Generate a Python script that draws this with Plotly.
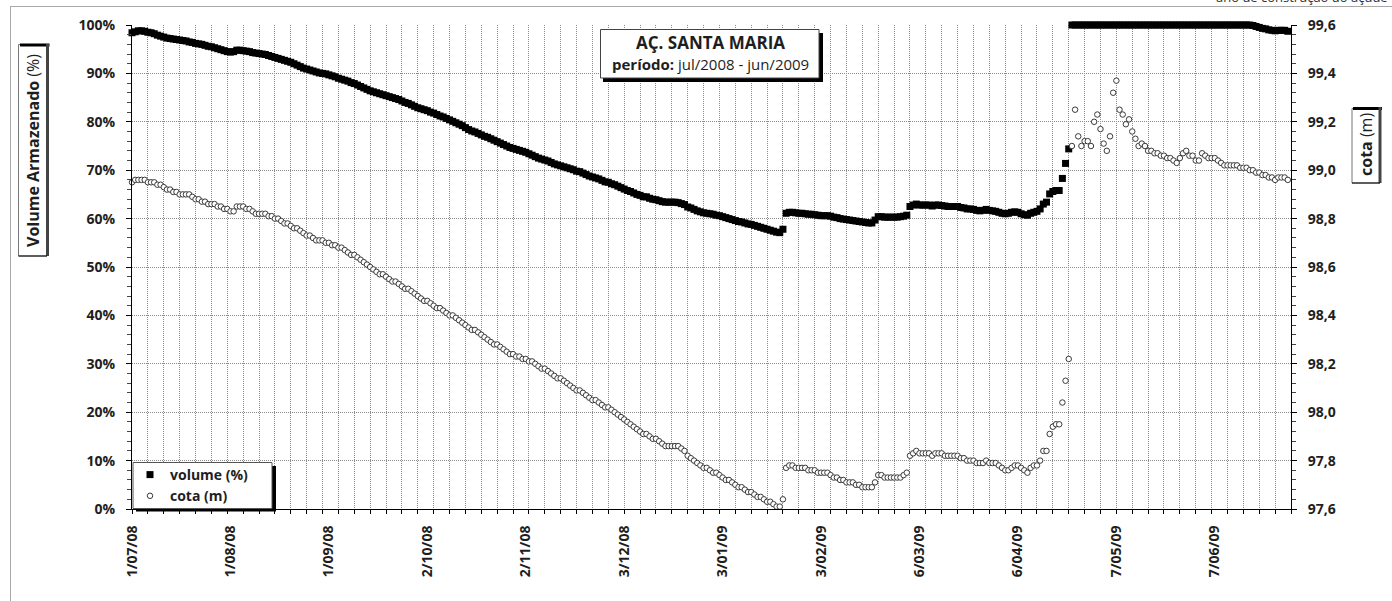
import plotly.graph_objects as go
import pandas as pd

# ---------------- data ----------------
start_date = "2008-07-01"
n_days = 365
dates = pd.date_range(start_date, periods=n_days, freq="D")

volume_pct = [
    98.4, 98.6, 98.8, 98.8, 98.7, 98.5, 98.4, 98.2, 97.9, 97.7,
    97.5, 97.3, 97.2, 97.1, 97.0, 96.9, 96.8, 96.7, 96.5, 96.4,
    96.2, 96.1, 96.0, 95.8, 95.6, 95.5, 95.3, 95.1, 94.9, 94.7,
    94.5, 94.4, 94.5, 94.8, 94.8, 94.7, 94.6, 94.5, 94.3, 94.2,
    94.1, 94.0, 93.9, 93.7, 93.5, 93.3, 93.1, 92.9, 92.7, 92.5,
    92.3, 92.0, 91.7, 91.4, 91.1, 90.9, 90.7, 90.5, 90.3, 90.1,
    90.0, 89.9, 89.7, 89.5, 89.3, 89.0, 88.8, 88.6, 88.4, 88.1,
    87.9, 87.6, 87.3, 87.0, 86.7, 86.4, 86.2, 86.0, 85.8, 85.6,
    85.4, 85.2, 85.0, 84.8, 84.6, 84.3, 84.0, 83.8, 83.5, 83.2,
    82.9, 82.7, 82.5, 82.3, 82.0, 81.8, 81.5, 81.2, 81.0, 80.7,
    80.4, 80.1, 79.8, 79.5, 79.2, 78.8, 78.4, 78.1, 77.9, 77.6,
    77.3, 77.0, 76.8, 76.5, 76.2, 75.9, 75.6, 75.3, 75.0, 74.7,
    74.5, 74.3, 74.1, 73.9, 73.7, 73.4, 73.1, 72.8, 72.5, 72.3,
    72.1, 71.9, 71.6, 71.3, 71.1, 70.9, 70.7, 70.5, 70.3, 70.1,
    69.8, 69.7, 69.4, 69.1, 68.8, 68.6, 68.4, 68.2, 67.9, 67.6,
    67.5, 67.2, 67.0, 66.7, 66.4, 66.1, 65.8, 65.6, 65.3, 65.0,
    64.8, 64.5, 64.5, 64.2, 64.0, 63.9, 63.7, 63.5, 63.4, 63.4,
    63.4, 63.4, 63.3, 63.1, 62.9, 62.4, 62.2, 61.9, 61.6, 61.4,
    61.2, 61.1, 61.0, 60.9, 60.7, 60.6, 60.4, 60.2, 60.0, 59.8,
    59.6, 59.4, 59.3, 59.1, 58.9, 58.8, 58.6, 58.4, 58.2, 58.0,
    57.8, 57.6, 57.4, 57.2, 57.1, 57.8, 61.1, 61.3, 61.3, 61.2,
    61.1, 61.1, 61.0, 60.9, 60.9, 60.8, 60.7, 60.6, 60.6, 60.6,
    60.5, 60.3, 60.2, 60.0, 59.9, 59.8, 59.7, 59.6, 59.5, 59.4,
    59.3, 59.2, 59.1, 59.1, 59.7, 60.4, 60.4, 60.3, 60.3, 60.3,
    60.3, 60.3, 60.4, 60.5, 60.7, 62.5, 62.8, 63.0, 62.8, 62.8,
    62.8, 62.8, 62.6, 62.8, 62.8, 62.7, 62.6, 62.5, 62.5, 62.5,
    62.5, 62.3, 62.2, 62.0, 62.0, 61.9, 61.7, 61.6, 61.7, 61.9,
    61.7, 61.6, 61.5, 61.3, 61.1, 61.0, 61.1, 61.3, 61.4, 61.3,
    61.0, 60.8, 60.7, 61.1, 61.3, 61.5, 62.0, 63.0, 63.4, 65.1,
    65.6, 65.8, 65.8, 68.3, 71.4, 74.4, 100, 100, 100, 100,
    100, 100, 100, 100, 100, 100, 100, 100, 100, 100,
    100, 100, 100, 100, 100, 100, 100, 100, 100, 100,
    100, 100, 100, 100, 100, 100, 100, 100, 100, 100,
    100, 100, 100, 100, 100, 100, 100, 100, 100, 100,
    100, 100, 100, 100, 100, 100, 100, 100, 100, 100,
    100, 100, 100, 99.9, 99.7, 99.5, 99.3, 99.2, 99.0, 98.9,
    98.8, 98.9, 98.9, 98.9, 98.7,
]

cota_m = [
    98.95, 98.96, 98.96, 98.96, 98.96, 98.95, 98.95, 98.95, 98.94, 98.94,
    98.93, 98.92, 98.92, 98.91, 98.91, 98.90, 98.90, 98.90, 98.90, 98.89,
    98.88, 98.88, 98.87, 98.87, 98.86, 98.86, 98.86, 98.85, 98.85, 98.84,
    98.84, 98.83, 98.83, 98.85, 98.85, 98.85, 98.84, 98.84, 98.83, 98.82,
    98.82, 98.82, 98.82, 98.81, 98.81, 98.80, 98.80, 98.79, 98.78, 98.78,
    98.77, 98.76, 98.76, 98.75, 98.74, 98.73, 98.73, 98.72, 98.71, 98.71,
    98.71, 98.70, 98.70, 98.69, 98.69, 98.68, 98.68, 98.67, 98.66, 98.65,
    98.65, 98.64, 98.63, 98.62, 98.61, 98.60, 98.59, 98.58, 98.57, 98.57,
    98.56, 98.55, 98.54, 98.54, 98.53, 98.52, 98.51, 98.51, 98.50, 98.49,
    98.48, 98.47, 98.46, 98.46, 98.45, 98.44, 98.43, 98.43, 98.42, 98.41,
    98.40, 98.40, 98.39, 98.38, 98.37, 98.36, 98.35, 98.34, 98.34, 98.33,
    98.32, 98.31, 98.30, 98.29, 98.28, 98.28, 98.27, 98.26, 98.25, 98.24,
    98.24, 98.23, 98.23, 98.22, 98.22, 98.21, 98.21, 98.20, 98.19, 98.18,
    98.18, 98.17, 98.16, 98.15, 98.14, 98.14, 98.13, 98.12, 98.11, 98.10,
    98.09, 98.09, 98.08, 98.07, 98.06, 98.05, 98.05, 98.04, 98.03, 98.02,
    98.02, 98.01, 98.00, 97.99, 97.98, 97.97, 97.96, 97.95, 97.94, 97.93,
    97.92, 97.91, 97.91, 97.90, 97.89, 97.89, 97.88, 97.87, 97.86, 97.86,
    97.86, 97.86, 97.86, 97.85, 97.84, 97.82, 97.81, 97.80, 97.79, 97.78,
    97.77, 97.77, 97.76, 97.75, 97.75, 97.74, 97.73, 97.72, 97.72, 97.71,
    97.70, 97.69, 97.69, 97.68, 97.67, 97.67, 97.66, 97.65, 97.65, 97.64,
    97.63, 97.63, 97.62, 97.61, 97.61, 97.64, 97.77, 97.78, 97.78, 97.77,
    97.77, 97.77, 97.77, 97.76, 97.76, 97.76, 97.75, 97.75, 97.75, 97.75,
    97.74, 97.73, 97.73, 97.72, 97.72, 97.71, 97.71, 97.71, 97.70, 97.70,
    97.69, 97.69, 97.69, 97.69, 97.71, 97.74, 97.74, 97.73, 97.73, 97.73,
    97.73, 97.73, 97.73, 97.74, 97.75, 97.82, 97.83, 97.84, 97.83, 97.83,
    97.83, 97.83, 97.82, 97.83, 97.83, 97.83, 97.82, 97.82, 97.82, 97.82,
    97.82, 97.81, 97.81, 97.80, 97.80, 97.80, 97.79, 97.79, 97.79, 97.80,
    97.79, 97.79, 97.79, 97.78, 97.77, 97.76, 97.76, 97.77, 97.78, 97.78,
    97.77, 97.76, 97.75, 97.77, 97.78, 97.78, 97.80, 97.84, 97.84, 97.91,
    97.94, 97.95, 97.95, 98.04, 98.13, 98.22, 99.10, 99.25, 99.14, 99.10,
    99.12, 99.12, 99.10, 99.20, 99.23, 99.17, 99.11, 99.08, 99.14, 99.32,
    99.37, 99.25, 99.23, 99.19, 99.21, 99.16, 99.13, 99.10, 99.11, 99.10,
    99.08, 99.08, 99.07, 99.07, 99.06, 99.06, 99.05, 99.05, 99.04, 99.03,
    99.05, 99.07, 99.08, 99.06, 99.06, 99.04, 99.04, 99.07, 99.06, 99.05,
    99.05, 99.05, 99.04, 99.03, 99.02, 99.02, 99.02, 99.02, 99.02, 99.01,
    99.01, 99.01, 99.00, 99.00, 98.99, 98.99, 98.98, 98.98, 98.97, 98.97,
    98.96, 98.97, 98.97, 98.97, 98.96,
]

tick_dates = ["2008-07-01", "2008-08-01", "2008-09-01", "2008-10-02",
              "2008-11-02", "2008-12-03", "2009-01-03", "2009-02-03",
              "2009-03-06", "2009-04-06", "2009-05-07", "2009-06-07"]
tick_labels = ["1/07/08", "1/08/08", "1/09/08", "2/10/08", "2/11/08",
               "3/12/08", "3/01/09", "3/02/09", "6/03/09", "6/04/09",
               "7/05/09", "7/06/09"]

series_names = ["volume (%)", "cota (m)"]
title_line1 = "AÇ. SANTA MARIA"
title_line2_bold = "período:"
title_line2 = "jul/2008 - jun/2009"
y1_title_bold, y1_title = "Volume Armazenado", "(%)"
y2_title_bold, y2_title = "cota", "(m)"
corner_note = "ano de construção do açude"

# ---------------- layout helpers (pixel -> paper) ----------------
W, H = 1392, 601
PL, PT, PW, PH = 132, 25, 1159, 484
FONT = "Open Sans"
INK = "#1e1e1e"


def px(x):
    return (x - PL) / PW


def py(y):
    return (PT + PH - y) / PH


fig = go.Figure()

fig.add_trace(go.Scatter(
    x=dates, y=volume_pct, name=series_names[0], mode="markers",
    marker=dict(symbol="square", size=7, color="black", line=dict(width=0)),
    cliponaxis=False, yaxis="y",
))
fig.add_trace(go.Scatter(
    x=dates, y=cota_m, name=series_names[1], mode="markers",
    marker=dict(symbol="circle", size=5.5, color="white",
                line=dict(width=1, color="#3a3a3a")),
    cliponaxis=False, yaxis="y2",
))

grid_col = "#8a8a8a"
tickfont = dict(family=FONT, size=14, color=INK, weight="bold")

fig.update_layout(
    width=W, height=H,
    margin=dict(l=PL, r=W - PL - PW, t=PT, b=H - PT - PH),
    paper_bgcolor="white", plot_bgcolor="white",
    separators=",.",
    showlegend=True,
    legend=dict(
        x=px(130), y=py(459), xanchor="left", yanchor="top",
        bgcolor="rgba(0,0,0,0)", borderwidth=0,
        font=dict(family=FONT, size=14, color=INK, weight="bold"),
        itemwidth=30, tracegroupgap=0,
    ),
    xaxis=dict(
        type="date",
        range=["2008-07-01", "2009-07-01"],
        tickmode="array", tickvals=tick_dates, ticktext=tick_labels,
        tickangle=-90, tickfont=tickfont, ticks="", showgrid=False,
        ticklabelstandoff=10,
        showline=True, linecolor="black", linewidth=1,
        zeroline=False,
        minor=dict(dtick=5 * 86400000, tick0=start_date, showgrid=True,
                   gridcolor=grid_col, griddash="1px,1px", gridwidth=1,
                   ticks="outside", ticklen=4, tickcolor="black"),
    ),
    yaxis=dict(
        range=[0, 100], dtick=10, tick0=0, ticksuffix="%",
        tickfont=tickfont, showgrid=True, gridcolor=grid_col,
        griddash="1px,1px", gridwidth=1,
        ticks="outside", ticklen=5, tickcolor="black",
        showline=True, linecolor="black", linewidth=1, zeroline=False,
        ticklabelstandoff=8,
        minor=dict(dtick=2, ticks="outside", ticklen=4, tickcolor="#444",
                   showgrid=False),
    ),
    yaxis2=dict(
        range=[97.6, 99.6], dtick=0.2, tick0=97.6, tickformat=".1f",
        overlaying="y", side="right",
        tickfont=tickfont, showgrid=False,
        ticks="outside", ticklen=5, tickcolor="black",
        showline=True, linecolor="black", linewidth=1, zeroline=False,
        ticklabelstandoff=8,
        minor=dict(dtick=0.04, ticks="outside", ticklen=4, tickcolor="#444",
                   showgrid=False),
    ),
)

shapes = []


def rect(x0, y0, x1, y1, fill="white", line_col=None, lw=0, layer="above"):
    shapes.append(dict(
        type="rect", xref="paper", yref="paper",
        x0=px(x0), x1=px(x1), y0=py(y1), y1=py(y0),
        fillcolor=fill, layer=layer,
        line=dict(width=lw, color=line_col or fill),
    ))


def hline(x0, x1, y, col, lw):
    shapes.append(dict(type="line", xref="paper", yref="paper",
                       x0=px(x0), x1=px(x1), y0=py(y), y1=py(y),
                       line=dict(color=col, width=lw), layer="above"))


def vline(x, y0, y1, col, lw):
    shapes.append(dict(type="line", xref="paper", yref="paper",
                       x0=px(x), x1=px(x), y0=py(y0), y1=py(y1),
                       line=dict(color=col, width=lw), layer="above"))


# outer chart border
hline(10, W + 5, 6.5, "#a8a8a8", 1)
vline(10.5, 6, H + 5, "#a8a8a8", 1)

# title box with shadow
rect(603, 33, 823, 82, fill="black")
rect(600.5, 29.5, 819, 78, fill="white", line_col="#444", lw=1)

# legend box with shadow
rect(136, 466, 276, 511.5, fill="black")
rect(133, 462.5, 272, 508.5, fill="white", line_col="#555", lw=1)

# left axis title box
rect(18.5, 44.5, 47, 256, fill="white", line_col="#777", lw=1)
hline(20, 49.5, 45, "black", 3)
vline(47.5, 44, 256, "#444", 3)
hline(18.5, 47, 256, "black", 1)

# right axis title box
rect(1352, 108.5, 1380, 183, fill="white", line_col="#777", lw=1)
hline(1353, 1382, 108.5, "black", 3)
vline(1380, 107, 183, "#444", 3)
hline(1352, 1380, 183, "black", 1)

fig.update_layout(shapes=shapes)

annotations = [
    dict(text=f"<b>{title_line1}</b>", x=px(710), y=py(43),
         font=dict(family=FONT, size=17, color=INK)),
    dict(text=f"<b>{title_line2_bold}</b> {title_line2}", x=px(710), y=py(64),
         font=dict(family=FONT, size=15, color=INK)),
    dict(text=f"<b>{y1_title_bold}</b> {y1_title}", x=px(33), y=py(151),
         textangle=-90, font=dict(family=FONT, size=16, color=INK)),
    dict(text=f"<b>{y2_title_bold}</b> {y2_title}", x=px(1366), y=py(145),
         textangle=-90, font=dict(family=FONT, size=16, color=INK)),
    dict(text=corner_note, x=px(1390), y=py(8), xanchor="right",
         yanchor="bottom", font=dict(family=FONT, size=13, color="#333")),
]
for a in annotations:
    a.update(xref="paper", yref="paper", showarrow=False)
    a.setdefault("xanchor", "center")
    a.setdefault("yanchor", "middle")
fig.update_layout(annotations=annotations)

# remove the browser's default 8px page margin so the figure sits at (0, 0)
fig.write_html("out.html",
               config={"displayModeBar": False},
               post_script="document.body.style.margin='0';"
                           "document.body.style.overflow='hidden';")
